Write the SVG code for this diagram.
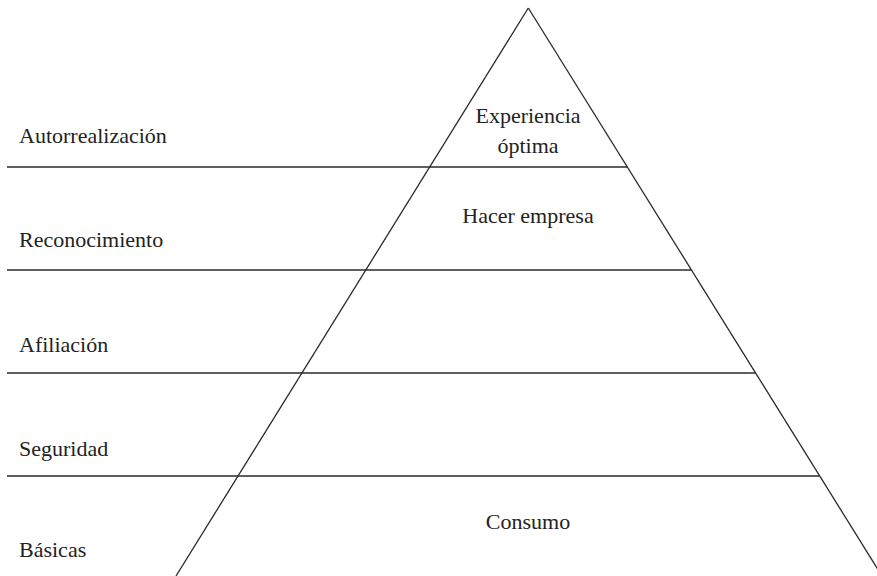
<svg xmlns="http://www.w3.org/2000/svg" width="877" height="576" viewBox="0 0 877 576">
<style>
.ln{stroke:#2a2a2a;stroke-width:1.3;fill:none}
.t{font-family:"Liberation Serif","Times New Roman",serif;font-size:22px;fill:#222}
.c{text-anchor:middle}
</style>
<rect width="877" height="576" fill="#fff"/>
<g id="connectors">
<line class="ln" x1="528.3" y1="8" x2="176" y2="576"/>
<line class="ln" x1="528.3" y1="8" x2="882" y2="576"/>
<line class="ln" x1="7" y1="167" x2="627.5" y2="167"/>
<line class="ln" x1="7" y1="270" x2="691" y2="270"/>
<line class="ln" x1="7" y1="373" x2="755.5" y2="373"/>
<line class="ln" x1="7" y1="476" x2="819.5" y2="476"/>
</g>
<g id="autorrealizacion"><text class="t" x="19" y="143">Autorrealización</text></g>
<g id="reconocimiento"><text class="t" x="19" y="247">Reconocimiento</text></g>
<g id="afiliacion"><text class="t" x="19" y="352">Afiliación</text></g>
<g id="seguridad"><text class="t" x="19" y="456">Seguridad</text></g>
<g id="basicas"><text class="t" x="19" y="557">Básicas</text></g>
<g id="experiencia"><text class="t c" x="528" y="123">Experiencia</text><text class="t c" x="528" y="153">óptima</text></g>
<g id="hacer-empresa"><text class="t c" x="528" y="223">Hacer empresa</text></g>
<g id="consumo"><text class="t c" x="528" y="529">Consumo</text></g>
</svg>
